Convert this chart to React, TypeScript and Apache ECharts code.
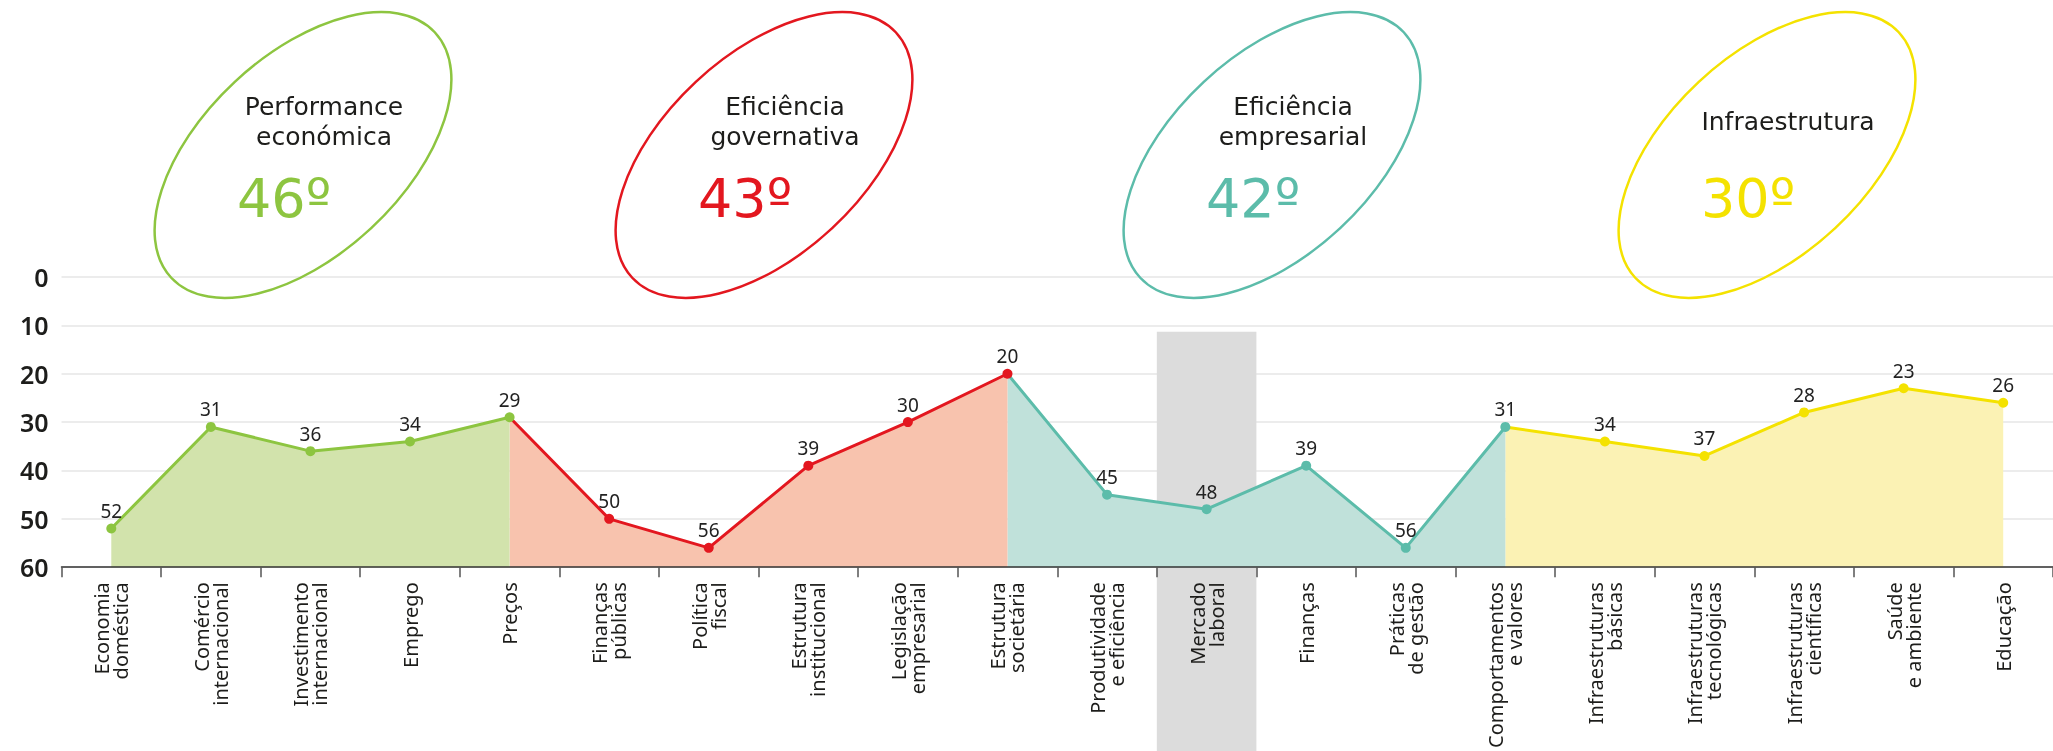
import React, { useEffect, useRef } from "react";
import * as echarts from "echarts";

const categories = [
  "Economia\ndoméstica",
  "Comércio\ninternacional",
  "Investimento\ninternacional",
  "Emprego",
  "Preços",
  "Finanças\npúblicas",
  "Política\nfiscal",
  "Estrutura\ninstitucional",
  "Legislação\nempresarial",
  "Estrutura\nsocietária",
  "Produtividade\ne eficiência",
  "Mercado\nlaboral",
  "Finanças",
  "Práticas\nde gestão",
  "Comportamentos\ne valores",
  "Infraestruturas\nbásicas",
  "Infraestruturas\ntecnológicas",
  "Infraestruturas\ncientíficas",
  "Saúde\ne ambiente",
  "Educação",
];

const performanceEconomica = [52, 31, 36, 34, 29];
const eficienciaGovernativa = [50, 56, 39, 30, 20];
const eficienciaEmpresarial = [45, 48, 39, 56, 31];
const infraestrutura = [34, 37, 28, 23, 26];

const pillarNames = [
  ["Performance", "económica"],
  ["Eficiência", "governativa"],
  ["Eficiência", "empresarial"],
  ["Infraestrutura"],
];
const pillarRanks = ["46º", "43º", "42º", "30º"];
const yTicks = [0, 10, 20, 30, 40, 50, 60];
const highlightedCategory = "Mercado\nlaboral";
const highlightTop = 11.3;

const lineColors = ["#8dc540", "#e3171f", "#5cbcaa", "#f4e200"];
const areaColors = ["#d2e3ac", "#f8c3ae", "#c0e1da", "#fbf2b4"];
const ellipseCenters = [303, 764, 1272, 1767];

const FONT = "'Noto Sans', sans-serif";
const TITLE_FONT = "'DejaVu Sans', sans-serif";

export default function App() {
  const ref = useRef<HTMLDivElement>(null);

  useEffect(() => {
    if (!ref.current) return;
    const chart = echarts.init(ref.current, undefined, { renderer: "svg" });
    const groups = [performanceEconomica, eficienciaGovernativa, eficienciaEmpresarial, infraestrutura];

    const series = groups.map((vals, gi) => {
      const data: any[] = categories.map(() => null);
      const start = gi * 5;
      if (gi > 0) {
        const prev = groups[gi - 1];
        data[start - 1] = { value: prev[prev.length - 1], symbol: "none", label: { show: false } };
      }
      vals.forEach((v, i) => {
        data[start + i] = v;
      });
      return {
        type: "line",
        name: pillarNames[gi].join(" "),
        data,
        z: 6 - gi,
        connectNulls: false,
        symbol: "circle",
        symbolSize: 10,
        lineStyle: { color: lineColors[gi], width: 3 },
        itemStyle: { color: lineColors[gi] },
        areaStyle: { color: areaColors[gi], opacity: 1, origin: "end" },
        label: {
          show: true,
          position: "top",
          distance: 3,
          color: "#222",
          fontSize: 19,
          fontFamily: FONT,
        },
        emphasis: { disabled: true },
      };
    });

    const ellipseGraphics: any[] = [];
    ellipseCenters.forEach((cx, i) => {
      ellipseGraphics.push({
        type: "ellipse",
        x: cx,
        y: 155,
        rotation: 0.75,
        z: 1,
        shape: { cx: 0, cy: 0, rx: 180, ry: 100 },
        style: { fill: "none", stroke: lineColors[i], lineWidth: 2.5 },
      });
      const lines = pillarNames[i];
      lines.forEach((ln, li) => {
        ellipseGraphics.push({
          type: "text",
          x: cx + 21,
          y: 121 + (li - (lines.length - 1) / 2) * 30,
          z: 2,
          style: {
            text: ln,
            fill: "#1d1d1b",
            fontSize: 25,
            fontFamily: TITLE_FONT,
            textAlign: "center",
            textVerticalAlign: "middle",
          },
        });
      });
      ellipseGraphics.push({
        type: "text",
        x: cx - 19,
        y: 198,
        z: 2,
        style: {
          text: pillarRanks[i],
          fill: lineColors[i],
          fontSize: 54,
          fontFamily: TITLE_FONT,
          textAlign: "center",
          textVerticalAlign: "middle",
        },
      });
    });

    const option: any = {
      animation: false,
      grid: { left: 61.5, top: 277, width: 2000, height: 292.5, containLabel: false },
      xAxis: {
        type: "category",
        data: categories,
        boundaryGap: true,
        position: "bottom",
        z: 10,
        axisLine: { show: true, onZero: false, lineStyle: { color: "#333", width: 1.5 } },
        axisTick: { show: true, interval: 0, length: 10, lineStyle: { color: "#555", width: 1.5 } },
        axisLabel: {
          interval: 0,
          rotate: 90,
          margin: 15,
          fontSize: 20,
          lineHeight: 19,
          color: "#1d1d1b",
          fontFamily: FONT,
        },
        splitLine: { show: false },
      },
      yAxis: {
        type: "value",
        inverse: true,
        min: yTicks[0],
        max: yTicks[yTicks.length - 1],
        interval: 10,
        axisLine: { show: false },
        axisTick: { show: false },
        axisLabel: {
          margin: 13,
          fontSize: 25,
          fontWeight: 600,
          color: "#1d1d1b",
          fontFamily: FONT,
        },
        splitLine: { show: true, lineStyle: { color: "#e6e6e6", width: 1.5 } },
      },
      series,
      graphic: ellipseGraphics,
    };

    chart.setOption(option);

    const idx = categories.indexOf(highlightedCategory);
    const xc = chart.convertToPixel({ xAxisIndex: 0 }, categories[idx]) as number;
    const xn = chart.convertToPixel({ xAxisIndex: 0 }, categories[idx + 1]) as number;
    const bw = xn - xc;
    const yt = chart.convertToPixel({ yAxisIndex: 0 }, highlightTop) as number;
    chart.setOption({
      graphic: [
        ...ellipseGraphics,
        {
          type: "rect",
          z: 1,
          shape: { x: xc - bw / 2, y: yt, width: bw, height: chart.getHeight() - yt },
          style: { fill: "#dcdcdc" },
          silent: true,
        },
      ],
    });

    return () => chart.dispose();
  }, []);

  return <div ref={ref} style={{ position: "fixed", left: 0, top: 0, width: 2053, height: 751 }} />;
}
